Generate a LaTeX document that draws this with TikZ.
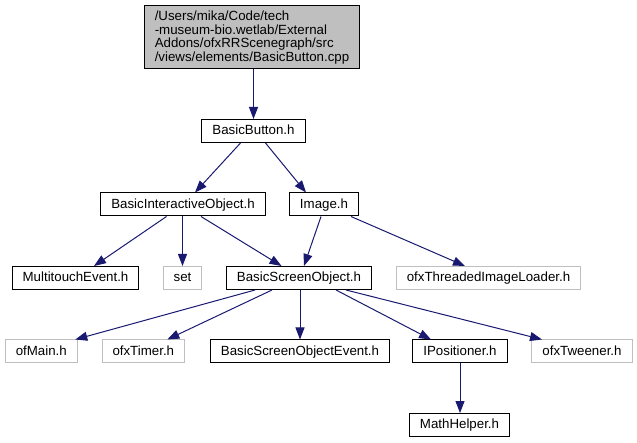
\documentclass[tikz,border=0pt]{standalone}
\usepackage{fontspec}
\setmainfont{Liberation Sans}
\usetikzlibrary{arrows.meta}
\definecolor{edgeblue}{HTML}{191970}
\definecolor{gray75}{HTML}{BFBFBF}
\begin{document}
\begin{tikzpicture}[x=1pt,y=-1pt,
  box/.style={draw=black, line width=1pt, font=\fontsize{13.3}{13.4}\selectfont,
    inner xsep=10.5pt, inner ysep=0pt, minimum height=23pt, text height=9.8pt, text depth=2.6pt},
  extbox/.style={box, draw=gray75},
  topbox/.style={draw=black, line width=1pt, fill=gray75, font=\fontsize{13.3}{13.4}\selectfont,
    align=left, inner xsep=10.5pt, inner ysep=0pt, minimum height=63pt},
  dep/.style={draw=edgeblue, line width=1pt, -{Triangle[length=12pt,width=9pt]}}]
\useasboundingbox (0,0) rectangle (637,443);
\node[topbox] (top) at (252,37.5) {/Users/mika/Code/tech\\-museum-bio.wetlab/External\\Addons/ofxRRScenegraph/src\\/views/elements/BasicButton.cpp};
\node[box] (bb) at (253.5,131) {BasicButton.h};
\node[box] (bio) at (183,204.5) {BasicInteractiveObject.h};
\node[box] (img) at (324,204.5) {Image.h};
\node[box] (mte) at (75.5,278) {MultitouchEvent.h};
\node[extbox] (set) at (182.5,278) {set};
\node[box] (bso) at (299,278) {BasicScreenObject.h};
\node[extbox] (til) at (488.5,278) {ofxThreadedImageLoader.h};
\node[extbox] (main) at (41.3,351.5) {ofMain.h};
\node[extbox] (timer) at (143.3,351.5) {ofxTimer.h};
\node[box] (bsoe) at (300,351.5) {BasicScreenObjectEvent.h};
\node[box] (ipos) at (460,351.5) {IPositioner.h};
\node[extbox] (tween) at (582,351.5) {ofxTweener.h};
\node[box] (math) at (459.5,425) {MathHelper.h};

\draw[dep] (bb.north |- top.south) -- (bb.north);
\draw[dep] ([xshift=-13pt]bb.south) -- ([xshift=12pt]bio.north);
\draw[dep] ([xshift=12pt]bb.south) -- ([xshift=-18pt]img.north);
\draw[dep] ([xshift=-16.5pt]bio.south) -- ([xshift=18.5pt]mte.north);
\draw[dep] (set.north |- bio.south) -- (set.north);
\draw[dep] ([xshift=18pt]bio.south) -- ([xshift=-17.5pt]bso.north);
\draw[dep] ([xshift=-3pt]img.south) -- ([xshift=5pt]bso.north);
\draw[dep] ([xshift=27pt]img.south) -- ([xshift=-23.5pt]til.north);
\draw[dep] ([xshift=-44pt]bso.south) -- ([xshift=34pt]main.north);
\draw[dep] ([xshift=-27pt]bso.south) -- ([xshift=24pt]timer.north);
\draw[dep] (bsoe.north |- bso.south) -- (bsoe.north);
\draw[dep] ([xshift=37pt]bso.south) -- ([xshift=-29pt]ipos.north);
\draw[dep] ([xshift=47pt]bso.south) -- ([xshift=-40pt]tween.north);
\draw[dep] (ipos.south) -- (ipos.south |- math.north);
\end{tikzpicture}
\end{document}
